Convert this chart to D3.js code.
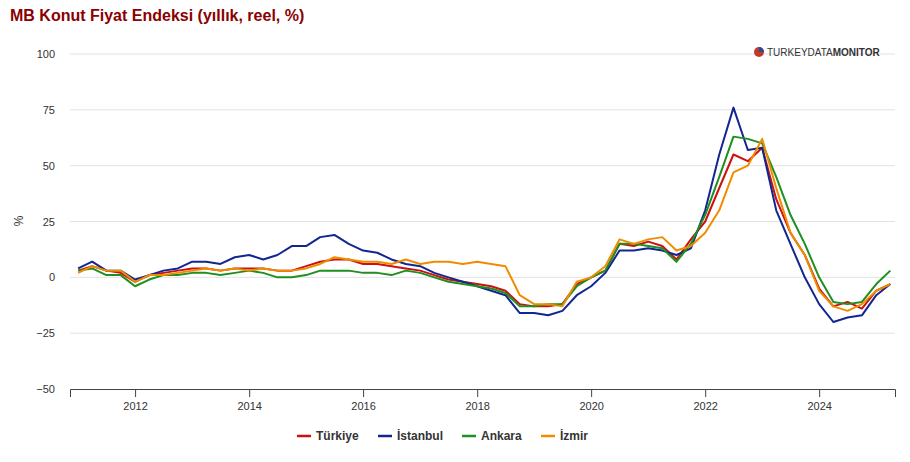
<!DOCTYPE html><html><head><meta charset="utf-8"><script src="https://cdn.jsdelivr.net/npm/d3@7"></script>
<style>body{margin:0;background:#fff;font-family:Arial,"Liberation Sans",sans-serif}</style></head><body><svg id="c" width="910" height="462"></svg>
<script>
const quarters=[];for(let y=2011;y<=2025;y++)for(const m of [0,3,6,9]){if(y===2025&&m>3)break;quarters.push(new Date(y,m,1));}
const seriesNames=["Türkiye","İstanbul","Ankara","İzmir"];
const colors=["#cc1111","#12268f","#1f8f1f","#f08c00"];
const turkiye=[3,5,3,2,-2,1,2,3,4,4,3,4,4,4,3,3,5,7,8,8,6,6,5,4,3,1,-1,-2,-3,-4,-6,-12,-13,-13,-12,-3,0,3,15,14,16,14,8,17,25,40,55,52,58,35,20,10,-5,-13,-11,-14,-6,-3];
const istanbul=[4,7,3,3,-1,1,3,4,7,7,6,9,10,8,10,14,14,18,19,15,12,11,8,6,5,2,0,-2,-4,-6,-8,-16,-16,-17,-15,-8,-4,2,12,12,13,12,10,13,30,55,76,57,58,30,15,0,-12,-20,-18,-17,-8,-3];
const ankara=[3,4,1,1,-4,-1,1,1,2,2,1,2,3,2,0,0,1,3,3,3,2,2,1,3,2,0,-2,-3,-4,-5,-7,-13,-13,-12,-12,-4,0,3,15,15,14,13,7,15,28,45,63,62,60,45,28,15,0,-11,-12,-11,-3,3];
const izmir=[2,5,3,3,-2,1,1,2,3,4,3,4,3,4,3,3,4,6,9,8,7,7,6,8,6,7,7,6,7,6,5,-8,-12,-12,-13,-2,0,5,17,15,17,18,12,14,20,30,47,50,62,40,20,10,-6,-13,-15,-12,-6,-3];
const data=[turkiye,istanbul,ankara,izmir];
const yTicks=[-50,-25,0,25,50,75,100];
const xTicks=[2012,2014,2016,2018,2020,2022,2024];
const svg=d3.select("#c");
const x=d3.scaleTime().domain([new Date(2010,10,10),new Date(2025,4,1)]).range([70,895]);
const y=d3.scaleLinear().domain([-50,100]).range([389,54]);
svg.append("text").attr("x",10).attr("y",21).attr("fill","#8b0000").attr("font-size",16).attr("font-weight","bold").text("MB Konut Fiyat Endeksi (yıllık, reel, %)");
svg.append("g").selectAll("line").data(yTicks.filter(d=>d>-50)).join("line").attr("x1",70).attr("x2",895).attr("y1",d=>y(d)).attr("y2",d=>y(d)).attr("stroke","#e2e2e2");
svg.append("g").selectAll("text").data(yTicks).join("text").attr("x",55).attr("y",d=>y(d)+4).attr("text-anchor","end").attr("font-size",11).attr("fill","#333").text(d=>d===-50?"−50":d===-25?"−25":d);
const xa=svg.append("g").attr("transform","translate(0,389)").call(d3.axisBottom(x).tickValues(xTicks.map(t=>new Date(t,0,1))).tickFormat(d3.timeFormat("%Y")).tickSize(8));
xa.select(".domain").attr("stroke","#444");xa.selectAll("line").attr("stroke","#444");xa.selectAll("text").attr("font-size",11).attr("fill","#333").attr("font-family","Arial,'Liberation Sans',sans-serif").attr("dy","0.9em");
svg.append("text").attr("transform","translate(23,221) rotate(-90)").attr("text-anchor","middle").attr("font-size",12).attr("fill","#333").text("%");
const line=d3.line().x((d,i)=>x(quarters[i])).y(d=>y(d));
data.forEach((s,k)=>svg.append("path").datum(s).attr("d",line).attr("fill","none").attr("stroke",colors[k]).attr("stroke-width",2).attr("stroke-linejoin","round"));
const lg=svg.append("g");const lx=[297,378,462,541];
seriesNames.forEach((n,k)=>{lg.append("line").attr("x1",lx[k]).attr("x2",lx[k]+14).attr("y1",436).attr("y2",436).attr("stroke",colors[k]).attr("stroke-width",2.5);
lg.append("text").attr("x",lx[k]+19).attr("y",440).attr("font-size",12).attr("font-weight","bold").attr("fill","#333").text(n);});
const logo=svg.append("g");logo.append("circle").attr("cx",759).attr("cy",52).attr("r",5).attr("fill","#c0392b");
logo.append("path").attr("d","M759,52 L759,47 A5,5 0 0,1 764,52 Z").attr("fill","#2c4a9a");
logo.append("text").attr("x",767).attr("y",56).attr("font-size",10).attr("fill","#333").html('TURKEYDATA<tspan font-weight="bold">MONITOR</tspan>');
</script></body></html>
